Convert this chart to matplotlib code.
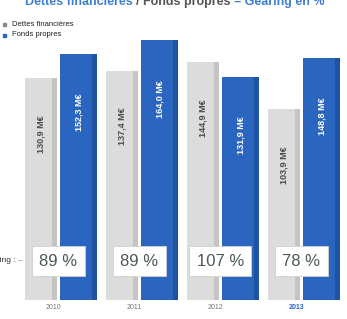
import numpy as np
import matplotlib.pyplot as plt

# Données (M€)
years = ["2010", "2011", "2012", "2013"]
dettes = [130.9, 137.4, 144.9, 103.9]
fonds_propres = [152.3, 164.0, 131.9, 148.8]
gearing = ["89 %", "89 %", "107 %", "78 %"]

GRAY = "#dcdcdc"
GRAY_DARK = "#c4c4c4"
BLUE = "#2a66c0"
BLUE_DARK = "#1f539f"
BASE = -62

plt.rcParams["font.family"] = ["Liberation Sans", "DejaVu Sans"]

fig = plt.figure(figsize=(3.47, 3.19), dpi=100)
ax = fig.add_axes([0.056, 0.06, 0.934, 0.846])

x = np.arange(len(years))
wg, wb = 0.40, 0.45
xg, xb = x - 0.235, x + 0.23

h_g = [v - BASE for v in dettes]
h_b = [v - BASE for v in fonds_propres]

ax.bar(xg, h_g, wg, bottom=BASE, color=GRAY, zorder=2)
ax.bar(xg + wg / 2 - 0.03, h_g, 0.06, bottom=BASE, color=GRAY_DARK, zorder=2)
ax.bar(xb, h_b, wb, bottom=BASE, color=BLUE, zorder=3)
ax.bar(xb + wb / 2 - 0.03, h_b, 0.06, bottom=BASE, color=BLUE_DARK, zorder=3)

# valeurs verticales dans les barres
for xi, v in zip(xg, dettes):
    ax.annotate(f"{v:.1f} M€".replace(".", ","), (xi, v), xytext=(0, -40),
                textcoords="offset points", rotation=90, ha="center", va="center",
                fontsize=6.5, fontweight="bold", color="#4a4a4a", zorder=5)
for xi, v in zip(xb, fonds_propres):
    ax.annotate(f"{v:.1f} M€".replace(".", ","), (xi, v), xytext=(0, -42),
                textcoords="offset points", rotation=90, ha="center", va="center",
                fontsize=6.5, fontweight="bold", color="white", zorder=5)

# encadrés gearing
for xi, g in zip(x, gearing):
    ax.text(xi - 0.02, 0.143, g, transform=ax.get_xaxis_transform(),
            ha="center", va="center", fontsize=12, color="#4b5a52", zorder=6,
            bbox=dict(boxstyle="square,pad=0.45", fc="white", ec="#d0d0d0", lw=0.6))

ax.set_xlim(-0.5, 3.5)
ax.set_ylim(BASE, 173)
ax.set_xticks(x - 0.08)
ax.set_xticklabels(years, fontsize=5, color="#777777")
ax.get_xticklabels()[-1].set_color(BLUE)
ax.get_xticklabels()[-1].set_fontweight("bold")
ax.tick_params(length=0, pad=3)
ax.set_yticks([])
for s in ax.spines.values():
    s.set_visible(False)

fig.text(16 / 347, 1 - 261 / 319, "Gearing :", ha="right", va="center",
         fontsize=6, color="#333333")
fig.text(16 / 347, 1 - 261 / 319, " –", ha="left", va="center",
         fontsize=6, color="#777777")

# légende
fig.patches.append(plt.Rectangle((3 / 347, 1 - 26 / 319), 3 / 347, 3 / 319,
                                 transform=fig.transFigure, color="#888888"))
fig.patches.append(plt.Rectangle((3 / 347, 1 - 37 / 319), 3 / 347, 3 / 319,
                                 transform=fig.transFigure, color=BLUE))
fig.text(12 / 347, 1 - 24 / 319, "Dettes financières", fontsize=5.5,
         va="center", color="#222222")
fig.text(12 / 347, 1 - 35 / 319, "Fonds propres", fontsize=5.5,
         va="center", color="#222222")

# titre (coupé en haut)
t1 = fig.text(25 / 347, 1 - 5 / 319, "Dettes financières ", fontsize=9,
              fontweight="bold", va="baseline", color="#3f7fd0")
t2 = fig.text(0, 0, "/ Fonds propres ", fontsize=9, fontweight="bold",
              va="baseline", color="#555555")
t3 = fig.text(0, 0, "= Gearing en %", fontsize=9, fontweight="bold",
              va="baseline", color="#3f7fd0")
fig.canvas.draw()
r = fig.canvas.get_renderer()
bb1 = t1.get_window_extent(r)
t2.set_position((bb1.x1 / fig.bbox.width, 1 - 5 / 319))
bb2 = t2.get_window_extent(r)
t3.set_position((bb2.x1 / fig.bbox.width, 1 - 5 / 319))

fig.savefig("out.png", dpi=100)
